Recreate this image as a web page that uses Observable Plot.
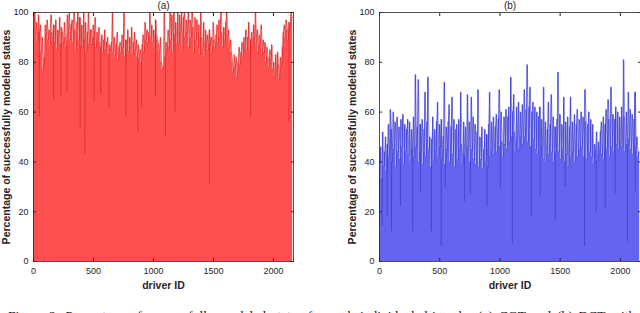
<!DOCTYPE html>
<html>
<head>
<meta charset="utf-8">
<script src="https://cdn.jsdelivr.net/npm/d3@7"></script>
<script src="https://cdn.jsdelivr.net/npm/@observablehq/plot@0.6"></script>
<style>
  html, body { margin: 0; padding: 0; background: #fff; width: 640px; height: 313px; overflow: hidden; }
  #wrap { position: relative; width: 640px; height: 313px; overflow: hidden; }
  #panels { display: flex; position: absolute; left: 0; top: 0; }
  #caption { position: absolute; left: 8px; top: 307.5px; white-space: nowrap;
    font-family: "Liberation Serif", "DejaVu Serif", serif; font-size: 13.5px; line-height: 15px; color: #111; word-spacing: 2.5px; }
</style>
</head>
<body>
<div id="wrap">
  <div id="panels"></div>
  <div id="caption">Figure 2: Percentage of successfully modeled states for each individual driver by (a) CGT and (b) DCT with</div>
</div>
<script>
// driver IDs are binned in steps of 8 (one value per bin)
const idStep = 8;
const xTicks = [0, 500, 1000, 1500, 2000];
const yTicks = [0, 20, 40, 60, 80, 100];
const titles = ["(a)", "(b)"];
const xLabel = "driver ID";
const yLabel = "Percentage of successfully modeled states";

// (a) CGT
const valuesA = [
  94,100,93,96,88,99,92,95,84,90,
  77,82,95,91,97,89,93,86,99,92,
  90,95,88,97,85,93,91,98,87,94,
  92,88,96,90,86,99,91,100,89,95,
  97,88,100,93,85,96,100,89,98,86,
  95,86,100,89,96,84,92,100,87,93,
  93,87,95,90,98,86,92,89,94,88,
  86,91,84,89,93,85,88,90,83,87,
  85,88,100,84,90,83,87,92,81,86,
  88,84,91,86,100,82,89,85,93,84,
  90,86,94,83,88,92,85,89,82,87,
  81,85,80,87,91,84,96,89,93,88,
  92,100,90,95,88,93,86,97,91,89,
  87,84,90,80,77,78,100,82,88,85,
  93,86,100,89,99,84,100,91,96,87,
  100,88,99,92,100,85,98,100,90,97,
  92,100,86,97,90,100,94,84,98,89,
  97,86,95,83,100,90,85,96,82,93,
  88,91,85,93,87,90,84,96,89,86,
  91,95,88,97,90,100,92,86,94,89,
  96,100,91,93,86,89,84,80,76,83,
  78,82,74,80,86,79,84,88,82,90,
  87,93,85,90,96,84,89,92,86,95,
  90,100,88,93,84,91,87,95,83,89,
  84,88,80,86,82,78,85,81,87,77,
  80,74,83,76,84,79,73,82,78,86,
  92,95,90,97,93,89,96,94,100,98
];
// deep single-driver dips in (a)
const dipIdsA = [48, 168, 228, 278, 389, 428, 505, 561, 630, 771, 870, 901, 1017, 1100, 1180, 1466, 1810, 2130];
const dipLowA = [58, 65, 66, 68, 53, 43, 64, 67, 62, 58, 52, 62, 66, 50, 60, 31, 58, 56];

// (b) DCT
const valuesB = [
  40,46,33,52,38,44,50,36,47,55,
  42,61,53,40,60,45,56,38,58,44,
  54,41,57,46,59,39,55,44,53,57,
  43,56,40,53,45,58,42,75,46,54,
  73,40,55,44,57,39,53,68,42,56,
  74,45,50,38,49,58,40,53,44,56,
  64,42,55,46,57,41,50,72,39,54,
  45,56,63,40,54,66,43,57,38,53,
  55,41,57,45,68,47,39,56,43,54,
  42,67,46,56,40,66,45,58,41,55,
  39,52,69,38,50,41,54,37,45,53,
  40,51,38,55,68,42,56,45,58,43,
  54,59,44,57,69,46,60,48,42,58,
  47,61,45,58,62,48,74,50,60,67,
  52,44,62,49,64,45,60,50,63,47,
  69,50,61,79,48,62,70,46,60,64,
  49,62,45,60,43,58,62,42,57,46,
  70,41,56,40,53,64,43,55,67,44,
  58,40,54,43,57,76,44,59,41,55,
  45,66,40,56,43,58,38,54,66,42,
  56,44,59,40,55,61,42,57,45,60,
  46,58,42,69,56,41,55,60,44,57,
  42,55,39,47,44,52,40,48,43,52,
  56,43,58,41,55,61,45,65,57,42,
  70,46,59,44,57,62,47,60,45,58,
  48,62,46,81,58,44,60,47,68,49,
  61,45,59,43,57,68,46,50,42,44
];
const dipIdsB = [22, 64, 100, 174, 276, 340, 431, 512, 547, 705, 755, 893, 1003, 1103, 1260, 1335, 1459, 1542, 1702, 1799, 1874, 1957, 2059, 2123];
const dipLowB = [14, 18, 12, 22, 12, 28, 12, 6, 30, 24, 27, 22, 29, 7, 18, 26, 16, 30, 6, 20, 21, 27, 8, 28];

const xMax = 2167;

function panel({values, dipIds, dipLow, fill, dark, light, title, width, marginLeft, marginRight}) {
  const table = values.map((v, i) => ({id: i * idStep, v}));
  const last = table[table.length - 1];
  const stepTable = table.concat([{id: last.id + idStep, v: last.v}]);
  const dips = dipIds.map((id, i) => ({id, lo: dipLow[i], hi: values[Math.min(values.length - 1, Math.floor(id / idStep))]}));
  return Plot.plot({
    width, height: 295,
    marginLeft, marginRight, marginTop: 12, marginBottom: 34,
    style: {fontFamily: "'Liberation Sans', Arial, sans-serif", fontSize: "9px", color: "#262626", background: "transparent", overflow: "visible"},
    x: {domain: [0, xMax]},
    y: {domain: [0, 100]},
    marks: [
      Plot.areaY(stepTable, {x: "id", y: "v", curve: "step-after", fill}),
      Plot.lineY(table, {x: d => d.id + idStep / 2, y: "v", stroke: light, strokeWidth: 0.6, strokeOpacity: 0.9}),
      Plot.ruleX(dips, {x: "id", y1: "lo", y2: "hi", stroke: dark, strokeWidth: 0.8, strokeOpacity: 0.55}),
      Plot.frame({stroke: "#262626", strokeWidth: 0.8}),
      Plot.axisX(xTicks, {anchor: "bottom", tickSize: 0, tickPadding: 6, tickFormat: d3.format("d"), label: null}),
      Plot.axisX(xTicks, {anchor: "bottom", tickSize: -3, tickFormat: () => "", label: null}),
      Plot.axisX(xTicks, {anchor: "top", tickSize: -3, tickFormat: () => "", label: null}),
      Plot.axisY(yTicks, {anchor: "left", tickSize: 0, tickPadding: 5, tickFormat: d3.format("d"), label: null}),
      Plot.axisY(yTicks, {anchor: "left", tickSize: -3, tickFormat: () => "", label: null}),
      Plot.axisY(yTicks, {anchor: "right", tickSize: -3, tickFormat: () => "", label: null}),
      Plot.text([title], {frameAnchor: "top", dy: -7, lineAnchor: "middle", textAnchor: "middle", fontSize: 10, fill: "#262626"}),
      Plot.text([xLabel], {frameAnchor: "bottom", dy: 24, lineAnchor: "middle", textAnchor: "middle", fontSize: 10.5, fontWeight: "bold", fill: "#262626"}),
      Plot.text([yLabel], {frameAnchor: "left", dx: -27, rotate: -90, lineAnchor: "middle", textAnchor: "middle", fontSize: 10.5, fontWeight: "bold", fill: "#262626"})
    ]
  });
}

const panels = document.getElementById("panels");
panels.appendChild(panel({values: valuesA, dipIds: dipIdsA, dipLow: dipLowA, fill: "#ff5050", dark: "#c00000", light: "#d81818", title: titles[0], width: 320, marginLeft: 33, marginRight: 27}));
panels.appendChild(panel({values: valuesB, dipIds: dipIdsB, dipLow: dipLowB, fill: "#6464f0", dark: "#1e1eb0", light: "#3030c8", title: titles[1], width: 320, marginLeft: 59, marginRight: 0}));
</script>
</body>
</html>
